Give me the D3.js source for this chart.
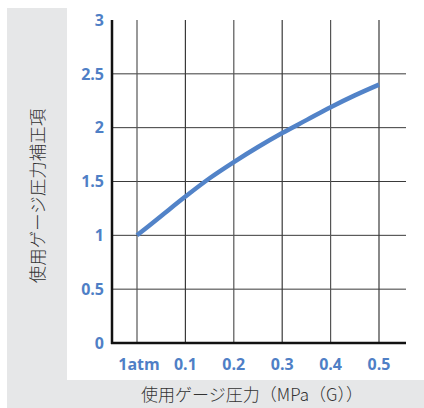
<!DOCTYPE html>
<html>
<head>
<meta charset="utf-8">
<script src="https://cdn.jsdelivr.net/npm/d3@7"></script>
<style>
  body { margin: 0; background: #fff; }
  svg { display: block; }
</style>
</head>
<body>
<script>
// pressure in MPa(G), 0 = 1atm
var pressure = [0, 0.05, 0.1, 0.15, 0.2, 0.25, 0.3, 0.35, 0.4, 0.45, 0.5]
var factor = [1.0, 1.18, 1.36, 1.53, 1.68, 1.82, 1.95, 2.07, 2.19, 2.30, 2.40]
var xTicks = [0, 0.1, 0.2, 0.3, 0.4, 0.5]
var xTickLabels = ["1atm", "0.1", "0.2", "0.3", "0.4", "0.5"]
var yTicks = [0, 0.5, 1, 1.5, 2, 2.5, 3]

var W = 424, H = 408
var svg = d3.select("body").append("svg")
  .attr("width", W)
  .attr("height", H)

// background panels
svg.append("rect").attr("x", 7).attr("y", 8).attr("width", W - 7).attr("height", H - 8).attr("fill", "#e6e7e8")
svg.append("rect").attr("x", 67).attr("y", 8).attr("width", W - 67).attr("height", 372).attr("fill", "#fff")

var x = d3.scaleLinear().domain([0, 0.5]).range([137, 379])
var y = d3.scaleLinear().domain([0, 3]).range([343, 20])
var xLeft = 112, xRight = 406

var blue = "#4f7fc6"

// horizontal grid
svg.selectAll(".hg").data(yTicks.filter(d => d > 0 && d < 3)).enter().append("line")
  .attr("x1", xLeft).attr("x2", xRight)
  .attr("y1", d => y(d)).attr("y2", d => y(d))
  .attr("stroke", "#3a3a3a").attr("stroke-width", 1)

// vertical grid
svg.selectAll(".vg").data(xTicks).enter().append("line")
  .attr("x1", d => x(d)).attr("x2", d => x(d))
  .attr("y1", y(3)).attr("y2", y(0))
  .attr("stroke", (d, i) => i % 2 ? "#3a3a3a" : "#555").attr("stroke-width", 1.2)

// axes
svg.append("line").attr("x1", xLeft).attr("x2", xLeft).attr("y1", y(3)).attr("y2", y(0) + 1)
  .attr("stroke", "#111").attr("stroke-width", 2.5)
svg.append("line").attr("x1", xLeft - 1).attr("x2", xRight).attr("y1", y(0)).attr("y2", y(0))
  .attr("stroke", "#111").attr("stroke-width", 2.5)

// curve
var line = d3.line().x((d, i) => x(pressure[i])).y(d => y(d)).curve(d3.curveMonotoneX)
svg.append("path").datum(factor)
  .attr("d", line)
  .attr("fill", "none")
  .attr("stroke", "#5283c8")
  .attr("stroke-width", 4.5)

// tick labels
svg.selectAll(".yl").data(yTicks).enter().append("text")
  .attr("x", 104).attr("y", d => y(d)).attr("dy", "0.36em")
  .attr("text-anchor", "end")
  .attr("font-family", "'Open Sans', sans-serif").attr("font-weight", "bold").attr("font-size", 16)
  .attr("fill", blue)
  .text(d => d)

svg.selectAll(".xl").data(xTicks).enter().append("text")
  .attr("x", (d, i) => x(d) + (i == 0 ? 2 : 0)).attr("y", 364).attr("dy", "0.36em")
  .attr("text-anchor", "middle")
  .attr("font-family", "'Open Sans', sans-serif").attr("font-weight", "bold").attr("font-size", 16)
  .attr("fill", blue)
  .text((d, i) => xTickLabels[i])

// axis titles
svg.append("text")
  .attr("transform", "translate(38,196) rotate(-90)")
  .attr("text-anchor", "middle").attr("dy", "0.36em")
  .attr("font-family", "'Noto Sans CJK JP', sans-serif").attr("font-weight", 300).attr("font-size", 17.5)
  .attr("fill", "#333")
  .text("使用ゲージ圧力補正項")

svg.append("text")
  .attr("x", 252).attr("y", 395).attr("dy", "0.36em")
  .attr("text-anchor", "middle")
  .attr("font-family", "'Noto Sans CJK JP', sans-serif").attr("font-weight", 300).attr("font-size", 17)
  .attr("fill", "#333")
  .text("使用ゲージ圧力（MPa（G））")
</script>
</body>
</html>
